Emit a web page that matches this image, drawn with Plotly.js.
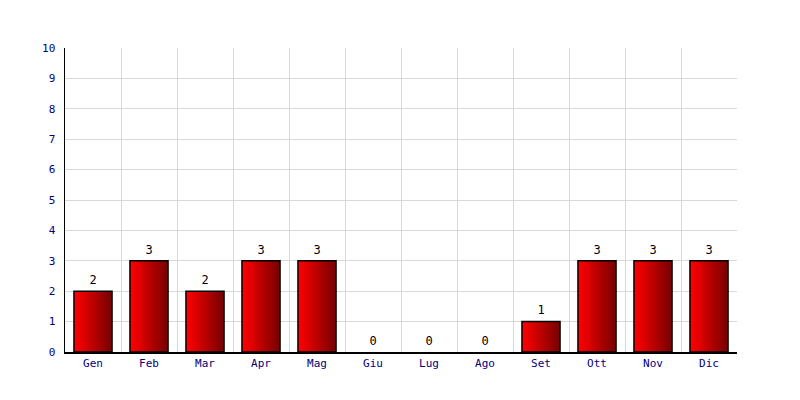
<!DOCTYPE html>
<html><head><meta charset="utf-8">
<script src="https://cdn.plot.ly/plotly-3.0.1.min.js"></script>
<style>body{margin:0;background:#fff}#c{width:800px;height:400px}</style>
</head><body><div id="c"></div>
<script>
const months = ["Gen","Feb","Mar","Apr","Mag","Giu","Lug","Ago","Set","Ott","Nov","Dic"];
const counts = [2,3,2,3,3,0,0,0,1,3,3,3];
const yTicks = [0,1,2,3,4,5,6,7,8,9,10];

const barY = counts.map(v => v === 0 ? null : v);
const BAR_W = 0.68, SLICES = 24;
const traces = [];
for (let i = 0; i < SLICES; i++) {
  const t = i / (SLICES - 1);
  const r = Math.round(255 - t * (255 - 120));
  traces.push({
    type: "bar", x: months, y: barY,
    width: BAR_W / SLICES + 0.002, offset: -BAR_W / 2 + i * BAR_W / SLICES,
    marker: {color: `rgb(${r},0,0)`, line: {width: 0}},
    hoverinfo: "skip", showlegend: false
  });
}
traces.push({
  type: "bar", x: months, y: barY, width: BAR_W, offset: -BAR_W / 2,
  marker: {color: "rgba(0,0,0,0)", line: {color: "#000", width: 1.5}},
  showlegend: false
});
traces.push({
  type: "scatter", mode: "markers+text", x: months, y: counts,
  text: counts.map(String), textposition: "top center",
  marker: {size: 5, color: "rgba(0,0,0,0)"},
  textfont: {family: "DejaVu Sans Mono", size: 12, color: "#000"},
  showlegend: false, cliponaxis: false
});

const layout = {
  width: 800, height: 400, barmode: "overlay", bargap: 0,
  margin: {l: 65, r: 63, t: 48, b: 48},
  paper_bgcolor: "#fff", plot_bgcolor: "#fff",
  font: {family: "DejaVu Sans Mono", size: 11, color: "#000080"},
  xaxis: {
    type: "category", range: [-0.5, 11.5], tickson: "boundaries", showgrid: true, gridcolor: "#d9d9d9",
    showline: true, linecolor: "#000", linewidth: 1.5, ticks: "outside", ticklen: 4,
    tickcolor: "rgba(0,0,0,0)", zeroline: false, fixedrange: true,
    tickfont: {family: "DejaVu Sans Mono", size: 11, color: "#000080"}
  },
  yaxis: {
    range: [0, 10], tickvals: yTicks, ticktext: yTicks.map(String),
    showgrid: true, gridcolor: "#d9d9d9", showline: true, linecolor: "#000", linewidth: 1.5,
    ticks: "outside", ticklen: 6, tickcolor: "rgba(0,0,0,0)", zeroline: false,
    tickfont: {family: "DejaVu Sans Mono", size: 11, color: "#000080"}
  }
};
Plotly.newPlot("c", traces, layout, {displayModeBar: false, staticPlot: true});
</script></body></html>
